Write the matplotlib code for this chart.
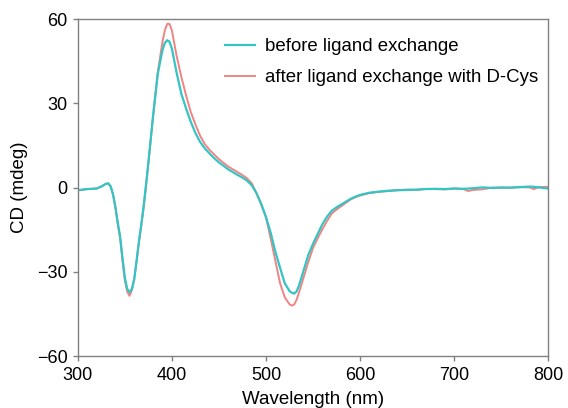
import numpy as np
import matplotlib.pyplot as plt

# wavelength grid (nm)
wl = [300, 305, 310, 315, 320, 325, 330, 332.5, 335, 337.5, 340, 342.5, 345, 347.5,
      350, 352.5, 355, 357.5, 360, 362.5, 365, 367.5, 370, 372.5, 375, 380, 385, 390,
      392.5, 395, 397.5, 400, 405, 410, 415, 420, 425, 430, 435, 440, 445, 450, 455,
      460, 465, 470, 475, 480, 485, 490, 495, 500, 505, 510, 515, 520, 525, 527.5, 530,
      532.5, 535, 540, 545, 550, 555, 560, 565, 570, 575, 580, 585, 590, 595, 600, 610,
      620, 630, 640, 650, 660, 670, 680, 690, 700, 710, 715, 720, 730, 740, 750, 760,
      770, 780, 785, 790, 800]

# CD before ligand exchange (mdeg)
cd_before = [-0.9, -0.7, -0.5, -0.4, -0.3, 0.4, 1.4, 1.5, 0.4, -2.5, -7, -12.5, -17.5, -25,
             -32, -36, -37.3, -36, -32.5, -26, -19, -13, -6.5, 1, 9, 25.5, 40.5, 49,
             51.5, 52.5, 52, 49.5, 41, 33.5, 28.3, 23.5, 19.5, 16.3, 14, 12.2, 10.5, 9, 7.8,
             6.5, 5.5, 4.5, 3.6, 2.5, 0.8, -2, -5.8, -10.4, -16, -22.8, -28.5, -34, -36.8, -37.4, -37.7,
             -37, -35, -29.5, -24, -20, -16.5, -13, -10.3, -8.2, -7, -6, -5, -4, -3.2, -2.6, -1.8,
             -1.4, -1.1, -0.9, -0.8, -0.7, -0.5, -0.4, -0.5, -0.3, -0.4, -0.3, -0.2, 0.1, -0.1, 0.1, 0.0,
             0.2, 0.4, 0.3, 0.1, -0.3]

# CD after ligand exchange with D-Cys (mdeg)
cd_after = [-0.9, -0.7, -0.5, -0.4, -0.3, 0.4, 1.4, 1.5, 0.4, -2.5, -7, -13, -18, -26,
            -33, -37, -38.5, -36.5, -32.5, -26, -19.5, -13.5, -7, 0.5, 8.5, 25.5, 41, 52,
            56, 58.3, 58.3, 56, 47, 39.5, 33, 27, 22.5, 18.5, 15.5, 13.5, 11.8, 10.2, 8.8,
            7.5, 6.5, 5.5, 4.5, 3.3, 1.5, -2, -6, -10.5, -18, -26, -34, -39, -41.5, -42, -41.6,
            -40, -37.5, -32, -26.5, -21.5, -18, -14.8, -11.8, -9.2, -7.8, -6.6, -5.4, -4.2, -3.4, -2.8, -1.9,
            -1.5, -1.2, -0.9, -0.7, -0.8, -0.4, -0.5, -0.6, -0.3, -0.5, -1.2, -0.8, -0.6, 0.0, -0.1, 0.0,
            0.2, 0.1, -0.5, 0.2, 0.3]

plt.rcParams['font.family'] = ['Liberation Sans', 'DejaVu Sans']

fig = plt.figure(figsize=(5.68, 4.08), dpi=100)
ax = fig.add_axes([0.137, 0.127, 0.828, 0.826])

l_after, = ax.plot(wl, cd_after, color='#f08383', lw=1.4, label='after ligand exchange with D-Cys')
l_before, = ax.plot(wl, cd_before, color='#33c4c4', lw=1.6, label='before ligand exchange')

ax.set_xlim(300, 800)
ax.set_ylim(-60, 60)
ax.set_xticks([300, 400, 500, 600, 700, 800])
ax.set_yticks([-60, -30, 0, 30, 60])
ax.set_xlabel('Wavelength (nm)', fontsize=13.5, labelpad=5)
ax.set_ylabel('CD (mdeg)', fontsize=13.5, labelpad=6)
ax.tick_params(labelsize=13, direction='out', length=3.5, color='#808080', width=1, pad=4)

for sp in ax.spines.values():
    sp.set_color('#808080')
    sp.set_linewidth(1)

ax.legend(handles=[l_before, l_after], loc='upper left', frameon=False, fontsize=13.4,
          handlelength=1.6, handletextpad=0.55, labelspacing=0.75,
          borderpad=0, borderaxespad=0, bbox_to_anchor=(0.313, 0.943))

fig.savefig('out.png', dpi=100)
